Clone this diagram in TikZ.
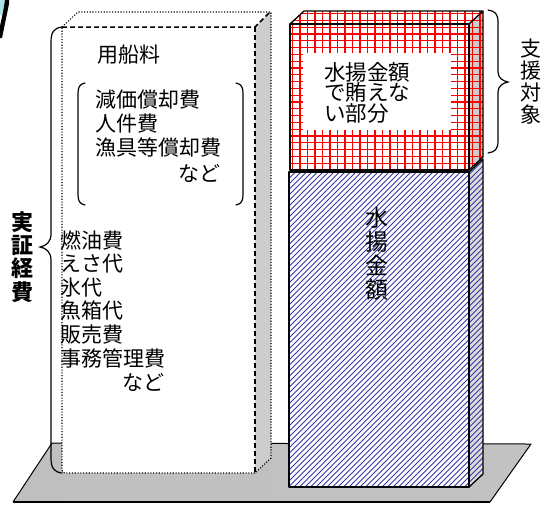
\documentclass[tikz,border=0pt]{standalone}
\usepackage{fontspec}
\setmainfont{Noto Sans CJK JP}
\definecolor{hatchblue}{RGB}{55,55,165}
\definecolor{sidegray}{RGB}{205,205,205}
\definecolor{cyanart}{RGB}{170,225,230}
\begin{document}
\begin{tikzpicture}[x=1pt,y=-1pt,
  txt/.style={inner sep=0pt, font=\fontsize{21}{23.6}\selectfont, align=left},
  vtxt/.style={inner sep=0pt, align=center},
  outl/.style={draw=black, line width=1.3pt, line join=round},
  dotln/.style={line width=1.1pt, dash pattern=on 1.1pt off 1.7pt},
  dashln/.style={line width=1.5pt, dash pattern=on 5pt off 3pt},
  bracel/.style={line width=1.2pt, line cap=round},
  hatchln/.style={hatchblue, line width=0.75pt},
  gridln/.style={red, line width=1.1pt}]
\useasboundingbox (0,0) rectangle (545,504);

% top-left artifact
\fill[cyanart] (0,0) -- (5,0) -- (2,15) -- (0,15) -- cycle;
\fill[black] (5,0) -- (9,0) -- (9,4) -- (2,38) -- (0,38) -- (0,26) -- (3,12) -- cycle;

% platform
\path[left color=gray!50, middle color=gray!12, right color=gray!48]
  (13,502) -- (52,443) -- (531,444) -- (490,502) -- cycle;
\draw[line width=1pt, line join=round] (13,502) -- (52,443) -- (531,444) -- (490,502);
\draw[line width=1.8pt] (13,502) -- (490,502);

% left (dotted) box
\fill[sidegray] (255,27) -- (271,12) -- (271,458) -- (255,473) -- cycle;
\draw[dotln] (62,27) -- (78,12) -- (271,12) -- (271,458) -- (255,473);
\fill[white, rounded corners=3pt] (62,27) rectangle (255,473);
\draw[dotln, rounded corners=3pt] (255,473) -- (62,473) -- (62,27);
\draw[dashln] (62,27) -- (255,27) -- (269,13);
\draw[dashln] (255,27) -- (255,473);

% blue box
\fill[white] (289,172) rectangle (469,487);
\fill[sidegray!70] (469,172) -- (483,159) -- (483,474) -- (469,487) -- cycle;
\begin{scope}
  \clip (289,172) rectangle (469,487);
  \foreach \i in {-60,-54.5,...,480} \draw[hatchln] (\i,500) -- ++(340,-340);
\end{scope}
\begin{scope}
  \clip (469,172) -- (483,159) -- (483,474) -- (469,487) -- cycle;
  \foreach \i in {-60,-54.5,...,480} \draw[hatchln] (\i,500) -- ++(340,-340);
\end{scope}
\draw[outl] (289,172) rectangle (469,487);
\draw[outl] (469,172) -- (483,159) -- (483,474) -- (469,487);

% red box
\fill[white] (290,24) rectangle (469,170);
\fill[white] (290,24) -- (304,11) -- (483,11) -- (469,24) -- cycle;
\fill[sidegray] (469,24) -- (483,11) -- (483,157) -- (469,170) -- cycle;
\begin{scope}
  \clip (290,24) rectangle (469,170);
  \draw[gridln, xstep=7.5pt, ystep=6.8pt] (280,0) grid (500,180);
\end{scope}
\begin{scope}
  \clip (290,24) -- (304,11) -- (483,11) -- (469,24) -- cycle;
  \draw[gridln, xstep=7.5pt, ystep=6.8pt] (280,0) grid (500,180);
\end{scope}
\begin{scope}
  \clip (469,24) -- (483,11) -- (483,157) -- (469,170) -- cycle;
  \draw[gridln, xstep=7.5pt, ystep=6.8pt] (280,0) grid (500,180);
\end{scope}
\fill[white] (303,53) rectangle (451,130);
\draw[outl] (290,24) rectangle (469,170);
\draw[outl] (290,24) -- (304,11) -- (483,11) -- (469,24);
\draw[outl] (483,11) -- (483,157) -- (469,170);

% brackets inside left box
\draw[bracel] (85,83) .. controls (79,84) and (78,88) .. (78,94) -- (78,194) .. controls (78,200) and (79,204) .. (85,205);
\draw[bracel] (236,83) .. controls (242,84) and (243,88) .. (243,94) -- (243,194) .. controls (243,200) and (242,204) .. (236,205);

% left brace
\draw[bracel] (62,27) .. controls (54,28) and (51,32) .. (51,42) -- (51,234)
  .. controls (51,242) and (46,246) .. (40,247)
  .. controls (46,248) and (51,252) .. (51,260) -- (51,458)
  .. controls (51,468) and (54,472) .. (62,473);
% right brace
\draw[bracel] (488,10) .. controls (495,11) and (498,14) .. (498,22) -- (498,72)
  .. controls (498,78) and (503,81) .. (508,82)
  .. controls (503,83) and (498,86) .. (498,92) -- (498,141)
  .. controls (498,149) and (495,152) .. (488,153);

% texts
\node[txt, anchor=west] (yousen) at (97,55) {用船料};
\node[txt, anchor=west, font=\fontsize{21}{24}\selectfont] (kotei) at (95,124) {減価償却費\\人件費\\漁具等償却費};
\node[txt, anchor=east] (nado1) at (221,173) {など};
\node[txt, anchor=west] (hendo) at (60,299) {燃油費\\えさ代\\氷代\\魚箱代\\販売費\\事務管理費};
\node[txt, anchor=west] (nado2) at (122,382) {など};
\node[txt, anchor=west, font=\fontsize{21.5}{20.5}\selectfont] (makan) at (324,92.5) {水揚金額\\で賄えな\\い部分};
\node[vtxt, font=\fontsize{23}{24}\selectfont] (mizuage) at (377,254) {水\\揚\\金\\額};
\node[vtxt, font=\fontsize{22}{23.3}\selectfont\bfseries] (jissho) at (22,257) {実\\証\\経\\費};
\node[vtxt, font=\fontsize{21}{22.3}\selectfont] (shien) at (531,81.5) {支\\援\\対\\象};
\end{tikzpicture}
\end{document}
